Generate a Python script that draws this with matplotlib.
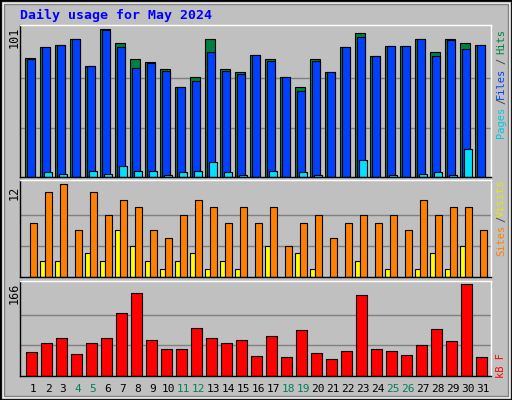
import matplotlib
matplotlib.use("Agg")
import matplotlib.pyplot as plt
from matplotlib.patches import Rectangle

days = list(range(1, 32))
hits = [81.1, 88.7, 90, 94.1, 75.6, 101, 91.4, 80.4, 78.4, 73.6, 61.2, 68.1, 94.1, 73.6, 71.5, 83.2,
        80.4, 68.1, 61.2, 80.4, 71.5, 88.7, 98.3, 82.5, 89.3, 89.3, 94.1, 85.2, 94.1, 91.4, 90]
files = [81, 88.7, 90, 94, 75.6, 100.3, 88.7, 74.3, 77.7, 72.2, 61.2, 65.4, 85.2, 72.2, 70.2, 83.2,
         79.1, 68.1, 58.5, 79.1, 71.5, 88.7, 95.5, 82.5, 89.3, 89.3, 94.1, 82.5, 93.5, 87.3, 90]
pages = [0, 3.7, 2.3, 0, 4.3, 2.3, 7.8, 4.3, 4.3, 1.6, 3.7, 4.3, 10.5, 3.7, 1.6, 0,
         4.3, 0, 3.7, 1.6, 0, 0, 11.9, 0, 1.6, 0, 2.3, 3.7, 1.6, 19.4, 0]
visits = [7, 11, 12, 6, 11, 8, 10, 9, 6, 5, 8, 10, 9, 7, 9, 7, 9, 4, 7, 8, 5, 7, 8, 7, 8, 6, 10, 8, 9, 9, 6]
sites = [0, 2, 2, 0, 3, 2, 6, 4, 2, 1, 2, 3, 1, 2, 1, 0, 4, 0, 3, 1, 0, 0, 2, 0, 1, 0, 1, 3, 1, 4, 0]
kbytes = [44.2, 60.6, 69.7, 40.6, 60.6, 67.9, 113.3, 149.6, 66, 49.7, 49.7, 87.8, 69.7, 60.6, 66, 37,
          73.3, 35.1, 82.4, 42.4, 31.5, 46, 146, 49.7, 46, 38.8, 57, 86, 64.2, 166, 35.1]
weekend = [4, 5, 11, 12, 18, 19, 25, 26]

W, H = 512, 400
BG = "#C0C0C0"
fig = plt.figure(figsize=(5.12, 4.0), dpi=100, facecolor=BG)

def box(l, t, r, b):
    return [l / W, 1 - b / H, (r - l) / W, (b - t) / H]

XL = (0.58, 31.98)

def mkax(t, b, ymax, grid):
    ax = fig.add_axes(box(20, t, 491, b))
    ax.set_facecolor(BG)
    ax.set_xlim(*XL)
    ax.set_ylim(0, ymax)
    for g in grid:
        ax.axhline(g, color="#808080", lw=1, zorder=0)
    ax.set_xticks([]); ax.set_yticks([])
    ax.spines["top"].set_color("white")
    ax.spines["right"].set_color("white")
    ax.spines["left"].set_color("black")
    ax.spines["bottom"].set_color("black")
    for s in ax.spines.values():
        s.set_linewidth(1)
    return ax

kw = dict(align="edge", edgecolor="black", linewidth=0.8)

ax1 = mkax(25, 177, 103.9, [101 / 3, 2 * 101 / 3])
ax1.bar([x - 0.067 for x in days], hits, width=0.65, color="#008040", **kw)
ax1.bar([x + 0.047 for x in days], files, width=0.53, color="#0040FF", **kw)
pd_ = [(x, p) for x, p in zip(days, pages) if p > 0]
ax1.bar([x + 0.2 for x, _ in pd_], [p for _, p in pd_], width=0.49, color="#00E0FF", **kw)

ax2 = mkax(180, 276.5, 12.56, [4, 8])
sd = [(x, s) for x, s in zip(days, sites) if s > 0]
ax2.bar([x - 0.067 for x, _ in sd], [s for _, s in sd], width=0.3, color="#FFFF00", **kw)
ax2.bar([x + 0.23 for x in days], visits, width=0.47, color="#FF8000", **kw)

ax3 = mkax(281, 376, 172, [166 / 3, 2 * 166 / 3])
ax3.bar(days, kbytes, width=0.69, color="#FF0000", **kw)
for x in days:
    ax3.text(x + 0.45, -13.5 / 95 * 172, str(x), ha="center", va="center", fontsize=8,
             family="DejaVu Sans Mono",
             color="#00805C" if x in weekend else "black", clip_on=False)

mono = "DejaVu Sans Mono"
def ftext(x, y, s, c, rot=90, size=7.5, **k):
    fig.text(x / W, 1 - y / H, s, color=c, rotation=rot, fontsize=size, family=mono,
             ha="center", va="center", **k)

fig.text(20 / W, 1 - 15 / H, "Daily usage for May 2024", color="#0000FF", fontsize=9.5,
         family=mono, weight="bold", ha="left", va="center")
ftext(14, 37, "101", "black", size=8.5)
ftext(14, 193, "12", "black", size=8.5)
ftext(14, 293, "166", "black", size=8.5)
ftext(501, 122, "Pages", "#00C8E0")
ftext(501, 101, "/", "#404040")
ftext(501, 83, "Files", "#0040FF")
ftext(501, 61, "/", "#404040")
ftext(501, 41, "Hits", "#008040")
ftext(501, 240, "Sites", "#FF8000")
ftext(501, 219, "/", "#404040")
ftext(501, 198, "Visits", "#E8E800")
ftext(501, 365, "kB F", "#FF0000")

fig.patches.append(Rectangle((0, 0), 1, 1, transform=fig.transFigure, fill=False,
                             edgecolor="black", lw=2))
fig.patches.append(Rectangle((3 / W, 3 / H), 1 - 6 / W, 1 - 6 / H, transform=fig.transFigure,
                             fill=False, edgecolor="white", lw=1))
fig.patches.append(Rectangle((4 / W, 4 / H), 1 - 8 / W, 1 - 8 / H, transform=fig.transFigure,
                             fill=False, edgecolor="#808080", lw=1))

fig.savefig("out.png", dpi=100, facecolor=BG)
